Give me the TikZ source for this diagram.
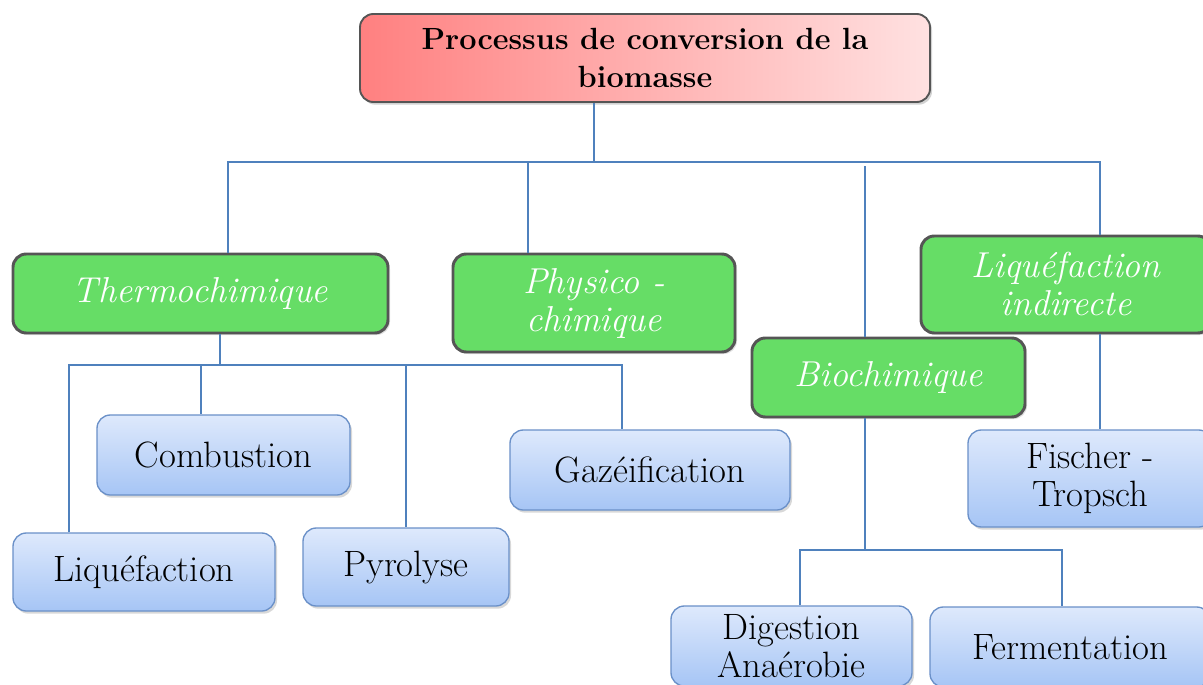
\documentclass[tikz,border=0pt]{standalone}
\usetikzlibrary{shadows}
\definecolor{conncol}{RGB}{79,129,189}
\definecolor{greenfill}{RGB}{102,221,102}
\definecolor{greenborder}{RGB}{85,85,85}
\definecolor{bluetop}{RGB}{222,233,252}
\definecolor{bluebot}{RGB}{166,197,245}
\definecolor{blueborder}{RGB}{106,144,200}
\definecolor{redleft}{RGB}{255,128,128}
\definecolor{redright}{RGB}{255,225,225}
\tikzset{
  conn/.style={draw=conncol, line width=1.1pt},
  topbox/.style={draw=greenborder, line width=1.4pt, rounded corners=10pt,
    left color=redleft, right color=redright, shading angle=90,
    align=center, font=\fontsize{23}{28.5}\selectfont\bfseries,
    drop shadow={opacity=0.35, shadow xshift=1.5pt, shadow yshift=-2pt}},
  greenbox/.style={draw=greenborder, fill=greenfill, line width=2.2pt, rounded corners=10pt,
    align=center, text=white, font=\fontsize{27}{28.5}\selectfont\itshape,
    drop shadow={opacity=0.25, shadow xshift=1.5pt, shadow yshift=-1.5pt}},
  bluebox/.style={draw=blueborder, line width=1pt, rounded corners=10pt,
    top color=bluetop, bottom color=bluebot,
    align=center, font=\fontsize{27.5}{28.5}\selectfont,
    drop shadow={opacity=0.3, shadow xshift=1.5pt, shadow yshift=-2pt}}
}
\begin{document}
\begin{tikzpicture}[x=0.75pt, y=-0.75pt]
\useasboundingbox (0,0) rectangle (1203,685);
\clip (0,0) rectangle (1203,685);
\fill[white] (0,0) rectangle (1203,685);

% boxes
\node[topbox, minimum width=427.5pt, minimum height=66pt] (top) at (645,58)
  {Processus de conversion de la\\biomasse};

\node[greenbox, minimum width=281.25pt, minimum height=59.25pt] (thermo) at (200.5,293.5) {Thermochimique};
\node[greenbox, minimum width=211.5pt, minimum height=73.5pt] (physico) at (594,303) {Physico -\\chimique};
\node[greenbox, minimum width=217.5pt, minimum height=72.75pt] (liqind) at (1066,284.5) {Liqu\'efaction\\indirecte};
\node[greenbox, minimum width=204.75pt, minimum height=59.25pt] (bio) at (888.5,377.5) {Biochimique};

\node[bluebox, minimum width=189.75pt, minimum height=60pt] (comb) at (223.5,455) {Combustion};
\node[bluebox, minimum width=196.5pt, minimum height=58.5pt] (liq) at (144,572) {Liqu\'efaction};
\node[bluebox, minimum width=154.5pt, minimum height=58.5pt] (pyro) at (406,567) {Pyrolyse};
\node[bluebox, minimum width=210pt, minimum height=60pt] (gaz) at (650,470) {Gaz\'eification};
\node[bluebox, minimum width=183pt, minimum height=72.75pt] (fischer) at (1090,478.5) {Fischer -\\Tropsch};
\node[bluebox, minimum width=180.75pt, minimum height=60pt] (dig) at (791.5,646) {Digestion\\Ana\'erobie};
\node[bluebox, minimum width=210pt, minimum height=60pt] (ferm) at (1070,647) {Fermentation};

% level 1 bus
\coordinate (hub) at (594,162);
\coordinate (busL) at (228,162);
\coordinate (busR) at (1100,162);
\coordinate (busP) at (528,162);
\coordinate (busB) at (865,166);
\draw[conn] (hub |- top.south) -- (hub);
\draw[conn] (busL |- thermo.north) -- (busL) -- (busR) -- (busR |- liqind.north);
\draw[conn] (busP) -- (busP |- physico.north);
\draw[conn] (busB) -- (busB |- bio.north);

% thermochimique bus
\coordinate (t0) at (220,365);
\coordinate (tL) at (69,365);
\coordinate (tC) at (201,365);
\coordinate (tP) at (406,365);
\coordinate (tR) at (622,365);
\draw[conn] (t0 |- thermo.south) -- (t0);
\draw[conn] (tL |- liq.north) -- (tL) -- (tR) -- (tR |- gaz.north);
\draw[conn] (tC) -- (tC |- comb.north);
\draw[conn] (tP) -- (tP |- pyro.north);

% biochimique bus
\coordinate (b0) at (865,550);
\coordinate (bL) at (800,550);
\coordinate (bR) at (1062,550);
\draw[conn] (b0 |- bio.south) -- (b0);
\draw[conn] (bL |- dig.north) -- (bL) -- (bR) -- (bR |- ferm.north);

% liquefaction indirecte
\coordinate (f0) at (1100,400);
\draw[conn] (f0 |- liqind.south) -- (f0 |- fischer.north);
\end{tikzpicture}
\end{document}
